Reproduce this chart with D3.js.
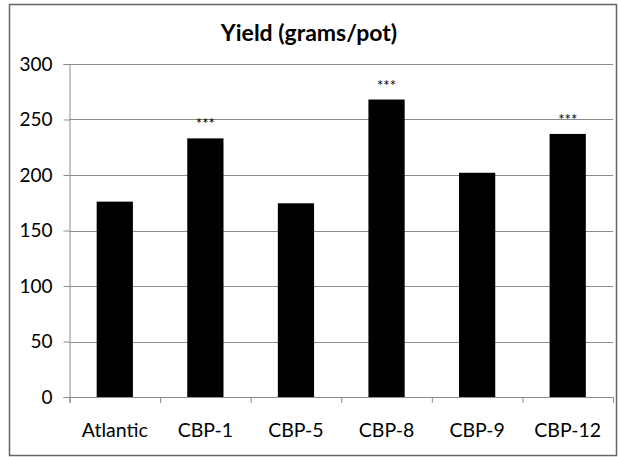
<!DOCTYPE html>
<html>
<head>
<meta charset="utf-8">
<script src="https://cdn.jsdelivr.net/npm/d3@7"></script>
<style>
  body { margin: 0; background: #fff; }
  svg text { font-family: Lato, "Open Sans", sans-serif; fill: #000; }
</style>
</head>
<body>
<svg id="chart"></svg>
<script>
const categories = ['Atlantic', 'CBP-1', 'CBP-5', 'CBP-8', 'CBP-9', 'CBP-12'];
const yieldValues = [176, 233, 174.5, 268, 202, 237];
const significance = ['', '***', '', '***', '', '***'];
const yTicks = [0, 50, 100, 150, 200, 250, 300];

const svg = d3.select('#chart').attr('width', 618).attr('height', 457);
const margin = { top: 64, right: 5, bottom: 60, left: 69.5 };
const width = 618 - margin.left - margin.right;
const height = 457 - margin.top - margin.bottom;

// outer chart border
svg.append('rect')
  .attr('x', 9.5).attr('y', 4.5)
  .attr('width', 607).attr('height', 451)
  .attr('fill', 'none')
  .attr('stroke', '#666')
  .attr('stroke-width', 1.5);

svg.append('text')
  .attr('x', 309)
  .attr('y', 41)
  .attr('text-anchor', 'middle')
  .attr('font-weight', 'bold')
  .attr('font-size', 23)
  .text('Yield (grams/pot)');

const g = svg.append('g').attr('transform', `translate(${margin.left},${margin.top})`);

const x = d3.scaleBand()
  .domain(categories)
  .range([0, width])
  .paddingInner(0.6)
  .paddingOuter(0.3);

const y = d3.scaleLinear()
  .domain([0, 300])
  .range([height, 0]);

// gridlines
g.append('g')
  .selectAll('line')
  .data(yTicks.filter(d => d > 0))
  .enter()
  .append('line')
  .attr('x1', 0)
  .attr('x2', width)
  .attr('y1', d => Math.round(y(d)) + 0.5)
  .attr('y2', d => Math.round(y(d)) + 0.5)
  .attr('stroke', '#8c8c8c');

g.selectAll('rect.bar')
  .data(yieldValues)
  .enter()
  .append('rect')
  .attr('class', 'bar')
  .attr('x', (d, i) => x(categories[i]))
  .attr('y', d => y(d))
  .attr('width', x.bandwidth())
  .attr('height', d => height - y(d))
  .attr('fill', '#000');

g.selectAll('text.sig')
  .data(yieldValues)
  .enter()
  .append('text')
  .attr('class', 'sig')
  .attr('x', (d, i) => x(categories[i]) + x.bandwidth() / 2)
  .attr('y', d => y(d) - 9)
  .attr('text-anchor', 'middle')
  .attr('font-size', 15)
  .text((d, i) => significance[i]);

const yAxis = g.append('g')
  .call(d3.axisLeft(y).tickValues(yTicks).tickSize(6).tickPadding(11));

const xGrid = d3.scaleLinear().domain([0, categories.length]).range([0, width]);
const xAxis = g.append('g')
  .attr('transform', `translate(0,${height})`)
  .call(d3.axisBottom(xGrid).tickValues(d3.range(categories.length + 1)).tickSize(6).tickFormat(''));

[yAxis, xAxis].forEach(a => {
  a.select('.domain').attr('stroke', '#8c8c8c');
  a.selectAll('.tick line').attr('stroke', '#8c8c8c');
});
yAxis.selectAll('text').attr('font-size', 19).attr('font-family', 'Lato, sans-serif');

g.append('g')
  .selectAll('text')
  .data(categories)
  .enter()
  .append('text')
  .attr('x', d => x(d) + x.bandwidth() / 2)
  .attr('y', height + 40)
  .attr('text-anchor', 'middle')
  .attr('font-size', 19.5)
  .text(d => d);
</script>
</body>
</html>
